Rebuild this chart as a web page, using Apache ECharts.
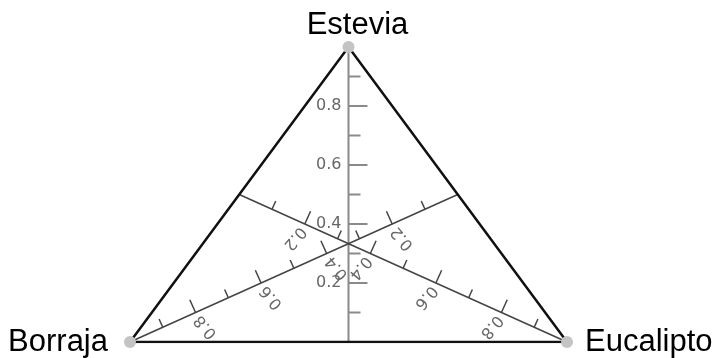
<!DOCTYPE html>
<html>
<head>
<meta charset="utf-8">
<script src="https://cdn.jsdelivr.net/npm/echarts@6/dist/echarts.min.js"></script>
<style>
    html, body {margin: 0; padding: 0; background: #fff;}
    #main {width: 717px; height: 358px;}
</style>
</head>
<body>
<div id="main"></div>
<script>
    // componentes del diagrama ternario (arriba, izquierda, derecha)
    let components = ['Estevia', 'Borraja', 'Eucalipto'];
    let tickValues = [0.1, 0.2, 0.3, 0.4, 0.5, 0.6, 0.7, 0.8, 0.9];
    let tickLabels = [0.2, 0.4, 0.6, 0.8];

    // (estevia, borraja, eucalipto) -> x, y del grid
    function toXY(t) {
        return [t[2] + t[0] / 2, t[0]];
    }

    // punto del eje k (mediana) con valor v
    function axisPoint(k, v) {
        let t = [(1 - v) / 2, (1 - v) / 2, (1 - v) / 2];
        t[k] = v;
        return toXY(t);
    }

    function vertex(k) {
        let t = [0, 0, 0];
        t[k] = 1;
        return toXY(t);
    }

    // estilo de cada eje: lado de las marcas, giro (grados, horario) y alineación de los textos
    let axisStyle = [
        {color: '#8a8a8a', width: 2, side: 1, major: 19, minor: 12, rot: 0, align: 'right', gap: 7},
        {color: '#444', width: 1.5, side: 1, major: 14, minor: 9, rot: -130, align: 'right', gap: 5},
        {color: '#444', width: 1.5, side: -1, major: 14, minor: 9, rot: 130, align: 'left', gap: 5}
    ];

    function tickRender(k) {
        let st = axisStyle[k];
        return function(params, api) {
            let v = api.value(0);
            let p0 = api.coord(axisPoint(k, 0));
            let p1 = api.coord(axisPoint(k, 1));
            let p = api.coord(axisPoint(k, v));
            let dx = p1[0] - p0[0], dy = p1[1] - p0[1];
            let l = Math.sqrt(dx * dx + dy * dy);
            let ux = dx / l, uy = dy / l;
            let nx = -uy * st.side, ny = ux * st.side;
            let isMajor = tickLabels.some(function(t) { return Math.abs(t - v) < 1e-6; });
            let len = isMajor ? st.major : st.minor;
            let children = [{
                type: 'line',
                shape: {x1: p[0], y1: p[1], x2: p[0] + nx * len, y2: p[1] + ny * len},
                style: {stroke: st.color, lineWidth: st.width}
            }];
            if (isMajor) {
                children.push({
                    type: 'text',
                    x: p[0] - nx * st.gap,
                    y: p[1] - ny * st.gap,
                    rotation: -st.rot * Math.PI / 180,
                    style: {
                        text: String(v),
                        fill: '#666',
                        fontSize: 16,
                        fontFamily: 'DejaVu Sans',
                        align: st.align,
                        verticalAlign: 'middle'
                    }
                });
            }
            return {type: 'group', children: children};
        };
    }

    let series = [];

    // ejes (medianas)
    components.forEach(function(name, k) {
        series.push({
            type: 'line',
            data: [axisPoint(k, 0), axisPoint(k, 1)],
            symbol: 'none',
            lineStyle: {color: axisStyle[k].color, width: axisStyle[k].width},
            z: 2
        });
        series.push({
            type: 'custom',
            coordinateSystem: 'cartesian2d',
            data: tickValues.map(function(v) { return [v]; }),
            renderItem: tickRender(k),
            clip: false,
            silent: true,
            z: 3
        });
    });

    // triángulo
    series.push({
        type: 'line',
        data: [vertex(1), vertex(0), vertex(2), vertex(1)],
        symbol: 'none',
        lineStyle: {color: '#111', width: 2.5},
        z: 4
    });

    // vértices con su nombre
    let labelPos = [
        {position: 'top', distance: 0, offset: [9, 0]},
        {position: 'left', distance: 16, offset: [0, 0]},
        {position: 'right', distance: 12, offset: [0, 0]}
    ];
    series.push({
        type: 'scatter',
        symbolSize: 12,
        itemStyle: {color: '#c4c4c4', opacity: 1},
        data: components.map(function(name, k) {
            return {
                name: name,
                value: vertex(k),
                label: Object.assign({
                    show: true,
                    formatter: '{b}',
                    color: '#000',
                    fontSize: 31,
                    fontFamily: 'Liberation Sans'
                }, labelPos[k])
            };
        }),
        z: 5
    });

    let chart = echarts.init(document.getElementById('main'));
    chart.setOption({
        animation: false,
        grid: {left: 130, right: 150, top: 47, bottom: 16},
        xAxis: {type: 'value', min: 0, max: 1, show: false},
        yAxis: {type: 'value', min: 0, max: 1, show: false},
        series: series
    });
</script>
</body>
</html>
